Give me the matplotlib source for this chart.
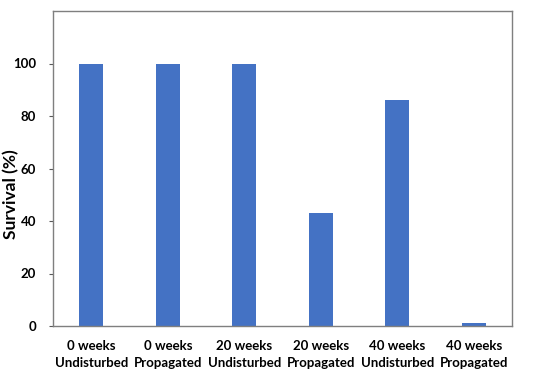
import matplotlib
matplotlib.use("Agg")
import matplotlib.pyplot as plt

categories = ["0 weeks\nUndisturbed", "0 weeks\nPropagated", "20 weeks\nUndisturbed",
              "20 weeks\nPropagated", "40 weeks\nUndisturbed", "40 weeks\nPropagated"]
survival = [100, 100, 100, 43, 86, 1]
yticks = [0, 20, 40, 60, 80, 100]

plt.rcParams['font.family'] = ['Lato', 'DejaVu Sans']
fig = plt.figure(figsize=(5.5, 3.76), dpi=100)
ax = fig.add_axes([53/550, 1-326/376, (512-53)/550, (326-11)/376])
x = range(len(categories))
ax.bar(x, survival, width=0.31, color="#4472C4", zorder=2)
ax.set_xlim(-0.5, len(categories)-0.5)
ax.set_ylim(0, 120)
ax.set_yticks(yticks)
ax.set_yticklabels([str(v) for v in yticks], fontsize=9.5, fontweight='bold')
ax.set_xticks(list(x))
ax.set_xticklabels(categories, fontsize=9.5, fontweight='bold', linespacing=1.5)
ax.tick_params(axis='x', length=0, pad=10)
ax.tick_params(axis='y', length=3, width=0.8, color='#595959', pad=9)
for s in ax.spines.values():
    s.set_color('#7f7f7f')
    s.set_linewidth(1.0)
ax.set_ylabel("Survival (%)", fontsize=12.5, fontweight='bold')
ax.yaxis.set_label_coords(-0.074, 0.42)
fig.savefig("out.png", dpi=100)
